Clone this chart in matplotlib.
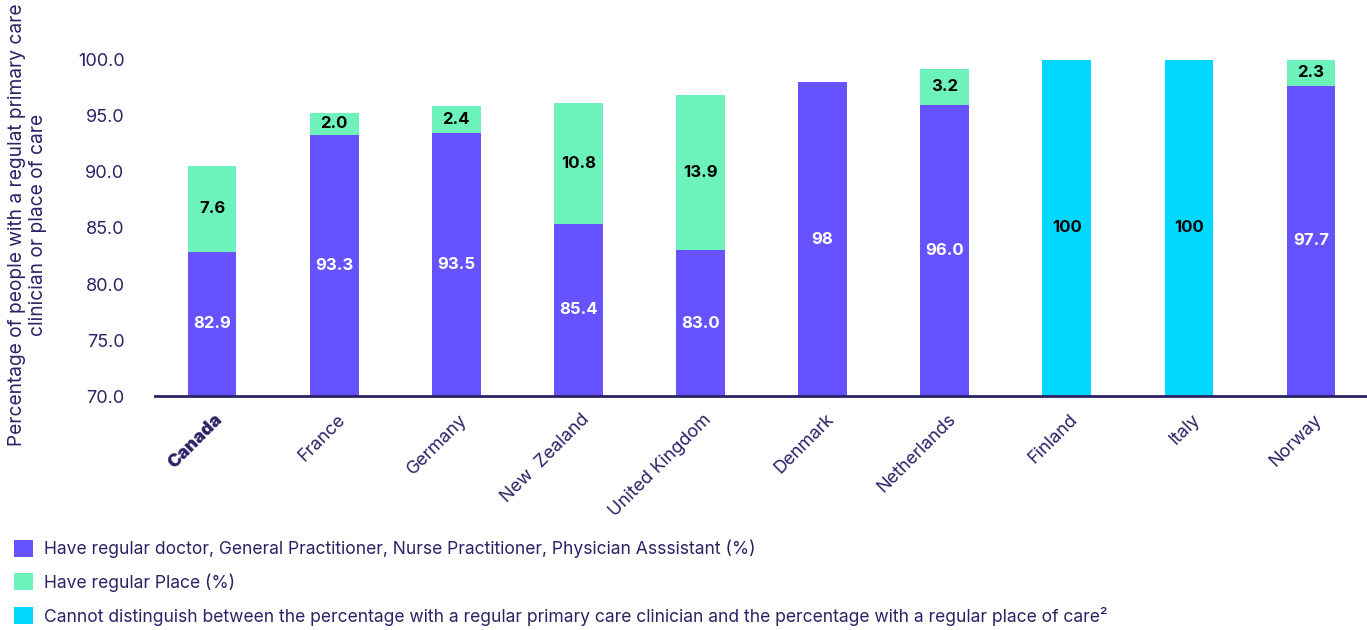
import matplotlib
matplotlib.use("Agg")
import matplotlib.pyplot as plt
import matplotlib.transforms as mtransforms
from matplotlib.patches import Patch
import numpy as np

plt.rcParams['font.family'] = ['Inter', 'DejaVu Sans']

countries = ["Canada", "France", "Germany", "New  Zealand", "United Kingdom",
             "Denmark", "Netherlands", "Finland", "Italy", "Norway"]
clinician = [82.9, 93.3, 93.5, 85.4, 83.0, 98, 96.0, None, None, 97.7]
place = [7.6, 2.0, 2.4, 10.8, 13.9, None, 3.2, None, None, 2.3]
undistinguished = [None, None, None, None, None, None, None, 100, 100, None]
clinician_labels = ["82.9", "93.3", "93.5", "85.4", "83.0", "98", "96.0", "", "", "97.7"]
place_labels = ["7.6", "2.0", "2.4", "10.8", "13.9", "", "3.2", "", "", "2.3"]
undist_labels = ["", "", "", "", "", "", "", "100", "100", ""]
yticks = [70.0, 75.0, 80.0, 85.0, 90.0, 95.0, 100.0]
legend_labels = [
    "Have regular doctor, General Practitioner, Nurse Practitioner, Physician Asssistant (%)",
    "Have regular Place (%)",
    "Cannot distinguish between the percentage with a regular primary care clinician and the percentage with a regular place of care\u00b2",
]

PURPLE = "#6652FF"
GREEN = "#6CF2BA"
CYAN = "#00D8FF"
NAVY = "#2A2366"
BASE = 70.0

fig = plt.figure(figsize=(13.67, 6.30), dpi=100)
ax = fig.add_axes([0.1134, 0.3714, 0.8866, 0.5423])

x = np.arange(len(countries))
w = 0.40
c = np.array([v if v is not None else np.nan for v in clinician])
p = np.array([v if v is not None else np.nan for v in place])
u = np.array([v if v is not None else np.nan for v in undistinguished])

ax.bar(x, c - BASE, bottom=BASE, width=w, color=PURPLE, zorder=2)
ax.bar(x, p, bottom=c, width=w, color=GREEN, zorder=2)
ax.bar(x, u - BASE, bottom=BASE, width=w, color=CYAN, zorder=2)

for i in range(len(countries)):
    if clinician_labels[i]:
        ax.text(x[i], (BASE + c[i]) / 2, clinician_labels[i], ha="center", va="center",
                color="white", fontsize=12, fontweight="bold", zorder=3)
    if place_labels[i]:
        ax.text(x[i], c[i] + p[i] / 2, place_labels[i], ha="center", va="center",
                color="black", fontsize=12, fontweight="bold", zorder=3)
    if undist_labels[i]:
        ax.text(x[i], (BASE + u[i]) / 2, undist_labels[i], ha="center", va="center",
                color="black", fontsize=12, fontweight="bold", zorder=3)

ax.set_ylim(70, 100.5)
ax.set_xlim(-0.467, 9.458)
ax.set_yticks(yticks)
ax.set_yticklabels([f"{t:.1f}" for t in yticks], color=NAVY, fontsize=13)
ax.tick_params(axis="y", length=0, pad=22)
ax.set_xticks(x)
ax.set_xticklabels(countries, rotation=45, ha="right", va="center",
                   rotation_mode="anchor", color=NAVY, fontsize=13)
ax.tick_params(axis="x", length=0, pad=15)
offset = mtransforms.ScaledTranslation(6 / 72, 0, fig.dpi_scale_trans)
for lbl in ax.get_xticklabels():
    lbl.set_transform(lbl.get_transform() + offset)
ax.get_xticklabels()[0].set_fontweight("black")

for s in ["top", "right", "left"]:
    ax.spines[s].set_visible(False)
ax.spines["bottom"].set_color(NAVY)
ax.spines["bottom"].set_linewidth(2)
ax.spines["bottom"].set_zorder(4)

ax.set_ylabel("Percentage of people with a regulat primary care\nclinician or place of care",
              color=NAVY, fontsize=13.8, linespacing=1.2)
ax.yaxis.set_label_coords(-0.089, 0.50)

handles = [Patch(facecolor=PURPLE), Patch(facecolor=GREEN), Patch(facecolor=CYAN)]
fig.legend(handles, legend_labels, loc="upper left", bbox_to_anchor=(0.004, 0.157),
           frameon=False, fontsize=12.6, labelcolor=NAVY, handlelength=1.1,
           handleheight=1.1, handletextpad=0.6, labelspacing=0.85, borderpad=0)

fig.savefig("out.png", dpi=100)
